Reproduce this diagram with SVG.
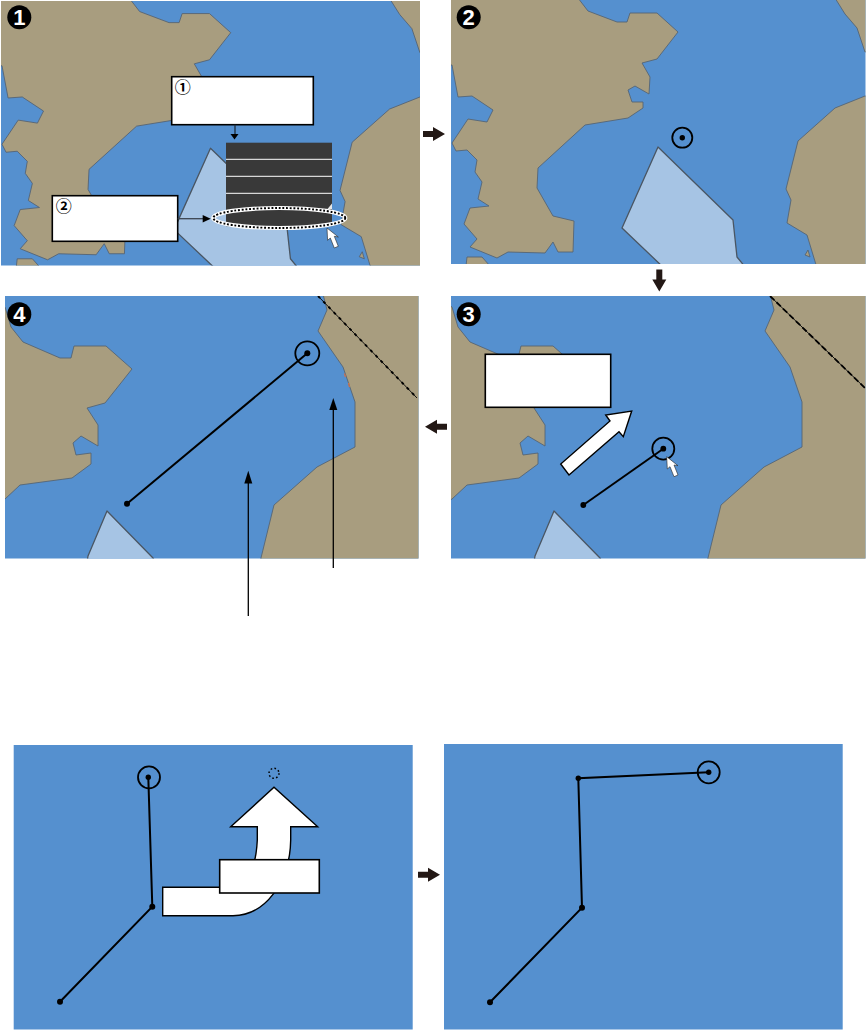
<svg xmlns="http://www.w3.org/2000/svg" width="866" height="1030" viewBox="0 0 866 1030">
<style>
.water{fill:#5590cf}
.land{fill:#a89d7f;stroke:#566575;stroke-width:.9;stroke-linejoin:round}
.zone{fill:#a6c4e4;stroke:#4a5663;stroke-width:1.3;stroke-linejoin:round}
.box{fill:#fff;stroke:#000;stroke-width:1.6}
.leg{fill:none;stroke:#000;stroke-width:2}
.ring{fill:none;stroke:#000;stroke-width:1.8}
.cur{fill:#fff;stroke:#222;stroke-width:.6;stroke-linejoin:round}
.big{fill:#fff;stroke:#000;stroke-width:1.4;stroke-linejoin:miter}
.step{fill:#231815}
.tag{fill:#000;stroke:none}
.num{font-family:"Liberation Sans",Arial,sans-serif;font-size:22px;font-weight:700;text-anchor:middle;fill:#fff}
.circ{font-family:"Noto Sans CJK JP",sans-serif;font-size:16px;font-weight:700;text-anchor:middle;fill:#000}
</style>
<defs>
<clipPath id="c1"><rect x="1" y="1" width="419" height="264.5"/></clipPath>
<clipPath id="c2"><rect x="451" y="0" width="414.5" height="264"/></clipPath>
<clipPath id="c3"><rect x="451" y="296" width="414.5" height="262.5"/></clipPath>
<clipPath id="c4"><rect x="5" y="296" width="413.5" height="262.5"/></clipPath>
<g id="chartA">
<path class="land" d="M578,-2 L588,11 L617,22 L627,22 L630,13 L657,13 L678,32 L657,59 L642,63 L650,77 L649,94 L635,86 L628,90 L632,102 L643,102 L643,108 L628,118 L585,125 L538,168 L537,188 L553,216 L574,221 L573,252 L558,252 L553,242 L545,253 L508,252 L497,258 L470,247 L477,239 L464,224 L470,208 L489,206 L478,199 L482,182 L475,172 L477,160 L467,150 L456,151 L452,143 L468,119 L487,122 L493,110 L472,96 L458,97 L452,65 L440,65 L440,-2 Z"/>
<path class="land" d="M467,257 L482,257 L490,266 L466,266 Z"/>
<path class="land" d="M835,-2 L845,14 L857,28 L865,52 L875,52 L875,-2 Z"/>
<path class="land" d="M875,96 L865,96 L835,108 L798,141 L786,189 L791,200 L787,223 L807,235 L817,268 L875,268 Z"/>
<path class="land" d="M805,255 L808,250 L810,257 Z"/>
<path class="zone" d="M658,147 L733,220 L737,257 L746,268 L664,268 L622,228 Z"/>
</g>
<g id="chartB">
<path class="land" d="M-5,300 L5,307 L11,327 L23,342 L60,358 L71,358 L74,346 L106,346 L132,369 L105,403 L87,408 L98,425 L98,446 L81,436 L73,443 L76,455 L91,453 L91,464 L72,478 L20,485 L5,499 L-5,505 Z"/>
<path class="land" d="M323,294 L327,310 L318,331 L343,367 L355,402 L355,447 L317,467 L274,505 L260,562 L430,562 L430,294 Z"/>
<path class="zone" d="M107,511 L153,558 L155,562 L87,562 L88,556 Z"/>
</g>
<polygon id="cursor" class="cur" points="0,0 11.3,9 7.3,8.3 11.3,18.3 7.3,20 3.3,10 .6,12.3"/>
<polygon id="stepArrow" class="step" points="0,-3 10,-3 10,-7 22,0 10,7 10,3 0,3"/>
</defs>

<g id="panel1">
<rect class="water" x="1" y="1" width="419" height="264.5"/>
<g clip-path="url(#c1)"><use href="#chartA" transform="translate(1,.5) scale(1.012,1.005) translate(-451,0)"/></g>
<g id="menu">
<rect x="226" y="142.7" width="106" height="83.5" fill="#393939"/>
<path d="M226,159.3H332M226,176.3H332M226,193.3H332" stroke="#fff" stroke-width="1"/>
<polygon points="332,203.5 332,209 327.5,209" fill="#e8e8e8"/>
</g>
<g id="selection">
<ellipse cx="279.3" cy="218" rx="66" ry="10" fill="none" stroke="#fff" stroke-width="4.2"/>
<ellipse cx="279.3" cy="218" rx="66" ry="10" fill="none" stroke="#000" stroke-width="1.9" stroke-dasharray="1.9 1.8"/>
</g>
<use href="#cursor" x="327" y="228"/>
<g id="callout1"><rect class="box" x="171.7" y="76.7" width="141.6" height="48"/><text class="circ" x="182.7" y="93.3">①</text></g>
<g id="callout2"><rect class="box" x="52.3" y="195.7" width="125.4" height="45.6"/><text class="circ" x="63.7" y="212.3">②</text></g>
<g id="badge1"><circle class="tag" cx="19.3" cy="17.3" r="12"/><text class="num" x="19.3" y="25.3">1</text></g>
</g>

<g id="panel2">
<rect class="water" x="451" y="0" width="414.5" height="264"/>
<g clip-path="url(#c2)"><use href="#chartA"/></g>
<circle class="ring" cx="682.3" cy="137.7" r="10"/><circle class="tag" cx="682.3" cy="137.7" r="2.7"/>
<g id="badge2"><circle class="tag" cx="468.7" cy="17.3" r="12"/><text class="num" x="468.7" y="25.3">2</text></g>
</g>

<g id="panel3">
<rect class="water" x="451" y="296" width="414.5" height="262.5"/>
<g clip-path="url(#c3)"><use href="#chartB" transform="translate(447,0)"/>
<path d="M770,296 L865,388" stroke="#000" stroke-width=".9"/>
<path d="M770,296 L865,388" stroke="#000" stroke-width="1.8" stroke-dasharray="6 3"/></g>
<rect class="box" x="485.3" y="354.3" width="125.4" height="53"/>
<polygon class="big" points="560.7,464 569,475 619,431.7 623.3,436.7 631.7,411 605.7,415 610,421"/>
<path class="leg" d="M583.3,505 L663.3,448.7"/>
<circle class="ring" cx="663.3" cy="448.7" r="11"/><circle class="tag" cx="663.3" cy="448.7" r="2.9"/><circle class="tag" cx="583.3" cy="505" r="2.9"/>
<use href="#cursor" x="666.7" y="456.7"/>
<g id="badge3"><circle class="tag" cx="468.7" cy="314.3" r="12"/><text class="num" x="468.7" y="322.3">3</text></g>
</g>

<g id="panel4">
<rect class="water" x="5" y="296" width="413.5" height="262.5"/>
<g clip-path="url(#c4)"><use href="#chartB"/>
<path d="M318,296 L417,398" stroke="#000" stroke-width=".9"/>
<path d="M318,296 L417,398" stroke="#000" stroke-width="1.9" stroke-dasharray="3 4.5"/>
<path d="M344.5,373.5 L345.5,377M348.5,383 L349.5,387" stroke="#d0704a" stroke-width="1.2"/></g>
<path class="leg" d="M127,503.7 L307.3,353.3"/>
<circle class="ring" cx="307.3" cy="353.3" r="12"/><circle class="tag" cx="307.3" cy="353.3" r="3"/><circle class="tag" cx="127" cy="503.7" r="3"/>
<g id="badge4"><circle class="tag" cx="19.3" cy="314.3" r="12"/><text class="num" x="19.3" y="322.3">4</text></g>
</g>

<g id="panel5">
<rect class="water" x="13.7" y="745" width="399" height="284.5"/>
<path class="big" d="M162.7,887.3 H225 C245,887.3 255.5,875 257.3,840 V826.7 H230.7 L274,787.3 L317.7,826.7 H290.7 V840 C290,882 265,915.7 233,915.7 H162.7 Z"/>
<rect class="box" x="219.7" y="859.7" width="99.6" height="33.3"/>
<circle cx="274" cy="773.3" r="5" fill="none" stroke="#000" stroke-width="1.5" stroke-dasharray="1.6 2.3"/>
<path class="leg" d="M148.3,777.3 L152.3,906.7 L60,1001.7"/>
<circle class="ring" cx="149" cy="777.3" r="11"/>
<circle class="tag" cx="148.3" cy="777.3" r="2.7"/><circle class="tag" cx="152.3" cy="906.7" r="3"/><circle class="tag" cx="60" cy="1001.7" r="3"/>
</g>

<g id="panel6">
<rect class="water" x="444" y="744" width="398.7" height="285.5"/>
<path class="leg" d="M708.7,772.3 L578.3,778.3 L582,907.7 L490,1002.3"/>
<circle class="ring" cx="708.7" cy="772.3" r="11"/>
<circle class="tag" cx="708.7" cy="772.3" r="2.7"/><circle class="tag" cx="578.3" cy="778.3" r="2.7"/><circle class="tag" cx="582" cy="907.7" r="3"/><circle class="tag" cx="490" cy="1002.3" r="3"/>
</g>

<g id="connectors">
<use href="#stepArrow" transform="translate(423,134)"/>
<use href="#stepArrow" transform="translate(659.3,269.5) rotate(90)"/>
<use href="#stepArrow" transform="translate(447,426.7) rotate(180)"/>
<use href="#stepArrow" transform="translate(418,874.7)"/>
<path d="M235,124.7 V135" stroke="#1c2c3c" stroke-width="1.3"/><polygon class="tag" points="230.5,134 238.5,134 234.5,139.5"/>
<path d="M177.7,218.7 H204" stroke="#3a4450" stroke-width="1.3"/><polygon class="tag" points="202.7,215 202.7,222.5 210.7,218.7"/>
<path d="M333.3,568 V408" stroke="#000" stroke-width="1.3"/><polygon class="tag" points="329.3,410 337.3,410 333.3,398"/>
<path d="M248.3,616 V482" stroke="#000" stroke-width="1.3"/><polygon class="tag" points="244.3,483.5 252.3,483.5 248.3,470.7"/>
</g>
</svg>
